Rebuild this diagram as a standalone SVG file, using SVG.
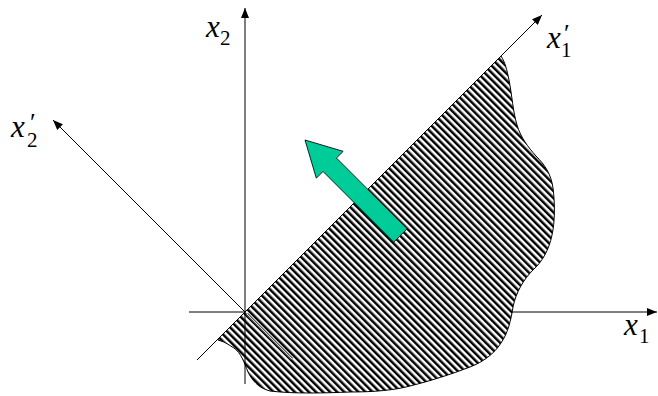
<svg xmlns="http://www.w3.org/2000/svg" width="658" height="396" viewBox="0 0 658 396">
  <style>
    .ax { stroke: #000; stroke-width: 1; fill: none; }
  </style>
  <defs>
    <marker id="ah" viewBox="0 0 10 8" refX="10" refY="4" markerWidth="10" markerHeight="8" markerUnits="userSpaceOnUse" orient="auto">
      <path d="M0,0 L10,4 L0,8 Z" fill="#000"/>
    </marker>
    <pattern id="hatch" patternUnits="userSpaceOnUse" width="5" height="10" patternTransform="rotate(-45)">
      <rect x="0" y="0" width="5" height="10" fill="#fff"/>
      <rect x="0" y="0" width="2.5" height="10" fill="#000"/>
    </pattern>
  </defs>

  <g id="axes-under">
    <line class="ax" x1="189" y1="312" x2="657" y2="312" marker-end="url(#ah)"/>
    <line class="ax" x1="245" y1="312" x2="53" y2="120" marker-end="url(#ah)"/>
    <line class="ax" x1="197" y1="360" x2="542" y2="15" marker-end="url(#ah)"/>
  </g>

  <g id="region">
    <path d="M219,338 L501,56 C505,62 507,70 509,80 C512,95 513,112 517,125 C521,138 528,147 536,156 C545,165 551,174 553,188 C555,203 555,222 552,235 C549,250 542,262 533,270 C524,279 516,292 513,307 C511,320 508,333 501,343 C494,354 483,362 470,367 C452,374 430,381 410,386 C395,390 375,392 350,392 C325,393 295,394 270,391 C258,388 252,380 248,372 C244,362 241,353 234,348 C229,345 225,342 221,341 L218,340 Z" fill="url(#hatch)" stroke="#000" stroke-width="1"/>
  </g>

  <g id="axes-over">
    <line class="ax" x1="245" y1="384" x2="245" y2="8" marker-end="url(#ah)"/>
    <line x1="247" y1="314" x2="292" y2="359" stroke="#555" stroke-width="3"/>
    <line x1="247" y1="314" x2="292" y2="359" stroke="#ddd" stroke-width="1"/>
  </g>

  <g id="green-arrow">
    <path transform="translate(305,140) rotate(225)" d="M0,0 L-35,-19 L-35,-9.5 L-135,-9.5 L-135,9.5 L-35,9.5 L-35,19 Z" fill="#00CC99" stroke="#000" stroke-width="0.8"/>
  </g>

  <g id="labels" font-family="Liberation Serif, Times New Roman, serif" fill="#000">
    <g id="label-x2">
      <text x="206" y="37"><tspan font-style="italic" font-size="31">x</tspan><tspan font-size="21" x="220" y="45">2</tspan></text>
    </g>
    <g id="label-x2p">
      <text x="11" y="137"><tspan font-style="italic" font-size="31">x</tspan><tspan font-size="26" x="30" y="131">′</tspan><tspan font-size="21" x="27" y="147">2</tspan></text>
    </g>
    <g id="label-x1p">
      <text x="547" y="48"><tspan font-style="italic" font-size="31">x</tspan><tspan font-size="26" x="564" y="42">′</tspan><tspan font-size="21" x="561" y="57">1</tspan></text>
    </g>
    <g id="label-x1">
      <text x="624" y="335"><tspan font-style="italic" font-size="31">x</tspan><tspan font-size="21" x="639" y="343">1</tspan></text>
    </g>
  </g>
</svg>
